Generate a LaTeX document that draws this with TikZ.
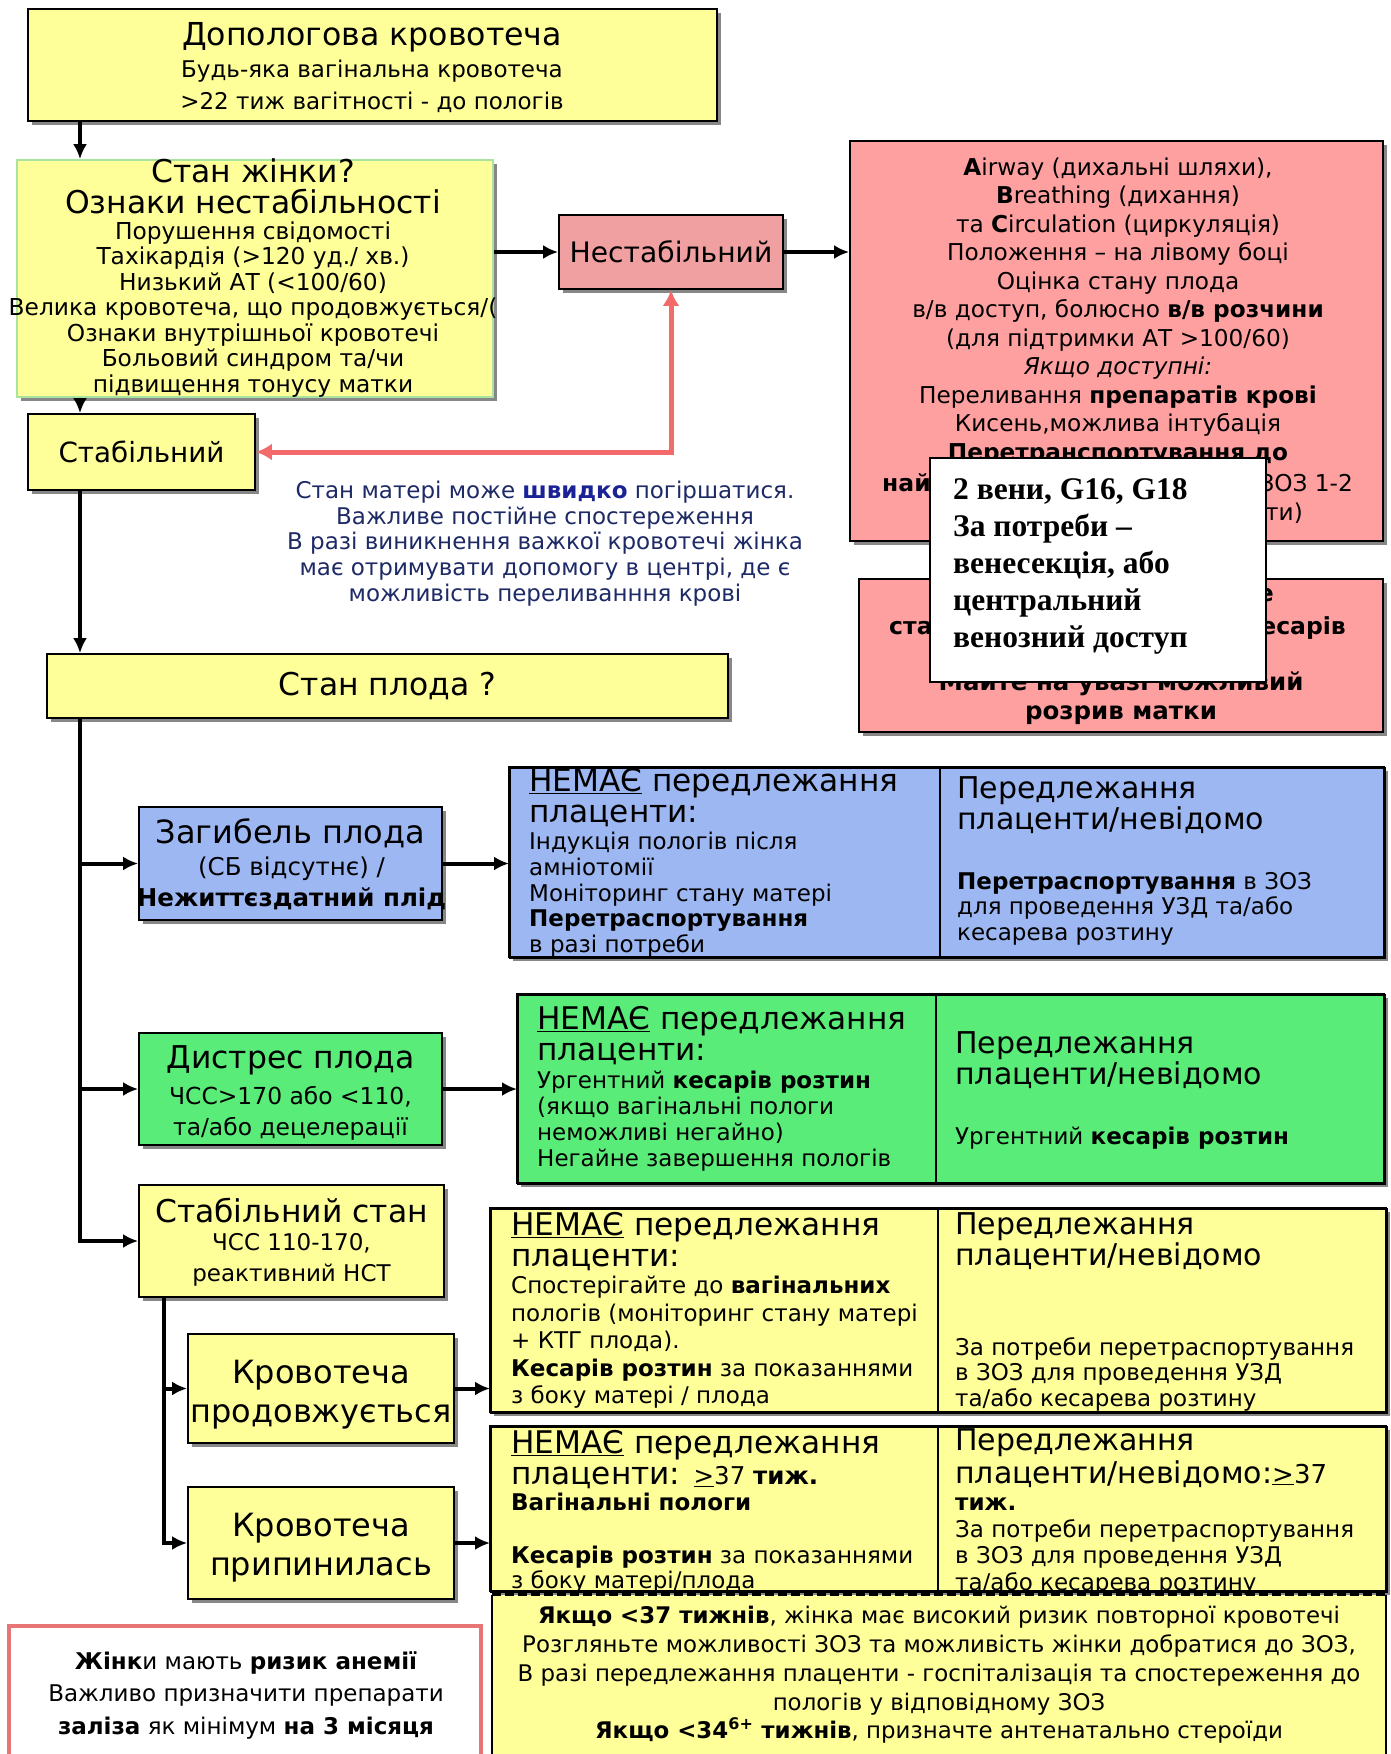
\documentclass[tikz,border=0pt]{standalone}
\usepackage{fontspec}
\setmainfont{DejaVu Sans}
\newfontfamily\serifb{Liberation Serif}
\usetikzlibrary{shadows,arrows.meta}
\definecolor{cyel}{HTML}{FFFF99}
\definecolor{cpinkA}{HTML}{F0A0A0}
\definecolor{cpinkB}{HTML}{FFA0A0}
\definecolor{cblueF}{HTML}{9DB7F2}
\definecolor{cgreenF}{HTML}{5AEC78}
\definecolor{carr}{HTML}{F26A6A}
\definecolor{cnavy}{HTML}{1E2A66}
\definecolor{cnavyb}{HTML}{1A2296}
\definecolor{cgb}{HTML}{A8E4A0}
\definecolor{cbrd}{HTML}{E87575}
\newcommand\fz[2]{\fontsize{#1}{#2}\selectfont}
\begin{document}
\begin{tikzpicture}[x=1pt,y=-1pt,
 shad/.style={drop shadow={shadow xshift=4pt,shadow yshift=-4pt,fill=black!55,opacity=.85}},
 box/.style={draw=black,line width=1.8pt,shad,inner sep=0pt,align=center},
 plain/.style={draw=black,line width=1.8pt,inner sep=0pt,anchor=north west},
 tl/.style={anchor=north west,inner sep=0pt,align=left},
 tc/.style={anchor=center,inner sep=0pt,align=center},
 frag/.style={inner sep=0pt,font=\fz{23.5}{28}\bfseries},
 arr/.style={line width=4pt,-{Latex[length=15pt,width=14pt]}},
 redarr/.style={line width=5pt,draw=carr,{Latex[length=16pt,width=17pt]}-{Latex[length=16pt,width=17pt]}},
]
\fill[white] (0,0) rectangle (1390,1754);
\useasboundingbox (0,0) rectangle (1390,1754);

% ---------- boxes ----------
\node[box,fill=cyel,minimum width=689pt,minimum height=112pt] (top) at (372.5,65) {};
\node[box,fill=cyel,draw=cgb,minimum width=476pt,minimum height=237pt] (zh) at (255,278.5) {};
\node[box,fill=cpinkA,minimum width=224pt,minimum height=74pt,font=\fz{28.2}{36}] (nest) at (671,252) {Нестабільний};
\node[box,fill=cpinkB,minimum width=533pt,minimum height=400pt] (red) at (1116.5,341) {};
\node[box,fill=cpinkB,minimum width=524pt,minimum height=153pt] (redb) at (1121,655.5) {};
\node[box,fill=cyel,minimum width=227pt,minimum height=76pt,font=\fz{27.8}{36}] (stab) at (141.5,452) {Стабільний};
\node[box,fill=cyel,minimum width=681pt,minimum height=64pt,font=\fz{31.4}{36}] (plod) at (387.5,686) {Стан плода ?};
\node[box,fill=cblueF,minimum width=303pt,minimum height=113pt] (zag) at (290.5,863.5) {};
\node[box,fill=cgreenF,minimum width=303pt,minimum height=112pt] (dys) at (290.5,1089) {};
\node[box,fill=cyel,minimum width=305pt,minimum height=112pt] (stst) at (291.5,1241) {};
\node[box,fill=cyel,minimum width=266pt,minimum height=109pt] (kra) at (321,1388.5) {};
\node[box,fill=cyel,minimum width=266pt,minimum height=112pt] (krb) at (321,1543) {};

% tables
\node[box,fill=cblueF,minimum width=875pt,minimum height=190pt] (blT) at (946.5,862) {};
\node[plain,minimum width=430pt,minimum height=190pt] (blL) at (509,767) {};
\node[plain,minimum width=445pt,minimum height=190pt] (blR) at (939,767) {};
\node[box,fill=cgreenF,minimum width=867pt,minimum height=189pt] (grT) at (950.5,1088.5) {};
\node[plain,minimum width=418pt,minimum height=189pt] (grL) at (517,994) {};
\node[plain,minimum width=449pt,minimum height=189pt] (grR) at (935,994) {};
\node[box,fill=cyel,minimum width=896pt,minimum height=204pt] (yaT) at (938,1310) {};
\node[plain,minimum width=447pt,minimum height=204pt] (yaL) at (490,1208) {};
\node[plain,minimum width=449pt,minimum height=204pt] (yaR) at (937,1208) {};
\node[box,fill=cyel,minimum width=896pt,minimum height=165pt] (ybT) at (938,1508.5) {};
\node[plain,minimum width=447pt,minimum height=165pt] (ybL) at (490,1426) {};
\node[plain,minimum width=449pt,minimum height=165pt] (ybR) at (937,1426) {};
% bottom boxes
\node[fill=cyel,inner sep=0pt,minimum width=894pt,minimum height=175pt] (bot) at (939,1682.5) {};
\draw[line width=1.8pt] (bot.north west) -- (bot.south west) (bot.north east) -- (bot.south east);
\draw[line width=3pt,dash pattern=on 9pt off 4pt] (bot.north west) -- (bot.north east);
\node[draw=cbrd,line width=4pt,fill=white,inner sep=0pt,minimum width=472pt,minimum height=144pt] (bleft) at (245,1698) {};

% ---------- texts ----------
\node[tc,font=\fz{31.6}{40}] (t1) at (372,37) {Допологова кровотеча};
\node[tc,font=\fz{23}{32}] (t2) at (372,86) {Будь-яка вагінальна кровотеча\\>22 тиж вагітності - до пологів};

\node[tc,font=\fz{31.4}{31}] (z1) at (253,186.5) {Стан жінки?\\Ознаки нестабільності};
\node[tc,font=\fz{23.3}{25.5}] (z2) at (253,309.5) {Порушення свідомості\\Тахікардія (>120 уд./ хв.)\\Низький АТ (<100/60)\\Велика кровотеча, що продовжується/(\\Ознаки внутрішньої кровотечі\\Больовий синдром та/чи\\підвищення тонусу матки};

\node[tc,font=\fz{23.2}{28.5}] (r1) at (1118,311.5) {\textbf{A}irway (дихальні шляхи),\\\textbf{B}reathing (дихання)\\та \textbf{C}irculation (циркуляція)\\Положення – на лівому боці\\Оцінка стану плода\\в/в доступ, болюсно \textbf{в/в розчини}\\(для підтримки АТ >100/60)\\\textit{Якщо доступні:}\\Переливання \textbf{препаратів крові}\\Кисень,можлива інтубація\\\textbf{Перетранспортування до}};
\node[frag,anchor=base west] (r2) at (882,491) {най};
\node[frag,anchor=base east,font=\fz{23.2}{28}] (r3) at (1353,491) {ЗОЗ 1-2};
\node[frag,anchor=base east,font=\fz{23.2}{28}] (r4) at (1303,520) {ти)};

\node[frag,anchor=base east] (q1) at (1274,601) {е};
\node[frag,anchor=base west] (q2) at (889,634) {ста};
\node[frag,anchor=base east] (q3) at (1346,634) {есарів};
\node[frag,anchor=base,font=\fz{24.5}{28}\bfseries] (q4) at (1121,690) {Майте на увазі можливий};
\node[frag,anchor=base,font=\fz{24.5}{28}\bfseries] (q5) at (1121,719) {розрив матки};

\node[draw=black,line width=1.5pt,fill=white,inner sep=0pt,minimum width=336pt,minimum height=224pt] (wb) at (1098,570) {};
\node[tl,font=\serifb\bfseries\fz{31.5}{37}] (wt) at (953,478) {2 вени, G16, G18\\За потреби –\\венесекція, або\\центральний\\венозний доступ};

\node[tc,font=\fz{23}{25.7},text=cnavy] (note) at (545,543.5) {Стан матері може \textcolor{cnavyb}{\textbf{швидко}} погіршатися.\\Важливе постійне спостереження\\В разі виникнення важкої кровотечі жінка\\має отримувати допомогу в центрі, де є\\можливість переливанння крові};

\node[tc,font=\fz{32}{36}] (g1) at (290.5,833) {Загибель плода};
\node[tc,font=\fz{24.5}{31}] (g2) at (291.5,883.5) {(СБ відсутнє) /\\\textbf{Нежиттєздатний плід}};
\node[tc,font=\fz{31.4}{36}] (d1) at (290.5,1060) {Дистрес плода};
\node[tc,font=\fz{23.4}{31}] (d2) at (290.5,1113) {ЧСС>170 або <110,\\та/або децелерації};
\node[tc,font=\fz{31.4}{36}] (s1) at (291.5,1211) {Стабільний стан};
\node[tc,font=\fz{23}{31}] (s2) at (291.5,1260) {ЧСС 110-170,\\реактивний НСТ};
\node[tc,font=\fz{32}{39}] (ka) at (321,1395) {Кровотеча\\продовжується};
\node[tc,font=\fz{32}{39}] (kb) at (321,1548) {Кровотеча\\припинилась};

% blue table
\node[tl,font=\fz{31.2}{31}] (b1) at (529,768) {\underline{НЕМАЄ} передлежання\\плаценти:};
\node[tl,font=\fz{23}{25.75}] (b2) at (529,832) {Індукція пологів після\\амніотомії\\Моніторинг стану матері\\\textbf{Перетраспортування}\\в разі потреби};
\node[tl,font=\fz{30}{31}] (b3) at (957,776) {Передлежання\\плаценти/невідомо};
\node[tl,font=\fz{23}{25.5}] (b4) at (957,872) {\textbf{Перетраспортування} в ЗОЗ\\для проведення УЗД та/або\\кесарева розтину};
% green table
\node[tl,font=\fz{31.2}{31}] (e1) at (537,1006) {\underline{НЕМАЄ} передлежання\\плаценти:};
\node[tl,font=\fz{23}{26}] (e2) at (537,1071) {Ургентний \textbf{кесарів розтин}\\(якщо вагінальні пологи\\неможливі негайно)\\Негайне завершення пологів};
\node[tl,font=\fz{30}{31}] (e3) at (955,1031) {Передлежання\\плаценти/невідомо};
\node[tl,font=\fz{23}{26}] (e4) at (955,1127) {Ургентний \textbf{кесарів розтин}};
% yellow table 1
\node[tl,font=\fz{31.2}{31}] (h1) at (511,1212) {\underline{НЕМАЄ} передлежання\\плаценти:};
\node[tl,font=\fz{23}{27.5}] (h2) at (511,1276) {Спостерігайте до \textbf{вагінальних}\\пологів (моніторинг стану матері\\+ КТГ плода).\\\textbf{Кесарів розтин} за показаннями\\з боку матері / плода};
\node[tl,font=\fz{30}{31}] (h3) at (955,1212) {Передлежання\\плаценти/невідомо};
\node[tl,font=\fz{23}{25.5}] (h4) at (955,1337) {За потреби перетраспортування\\в ЗОЗ для проведення УЗД\\та/або кесарева розтину};
% yellow table 2
\node[tl,font=\fz{31.2}{31}] (k1) at (511,1430) {\underline{НЕМАЄ} передлежання\\плаценти: {\fz{24.5}{31}\underline{>}37 \textbf{тиж.}}};
\node[tl,font=\fz{23}{25}] (k2) at (511,1493) {\textbf{Вагінальні пологи}};
\node[tl,font=\fz{23}{25}] (k3) at (511,1546) {\textbf{Кесарів розтин} за показаннями\\з боку матері/плода};
\node[tl,font=\fz{30}{33}] (k4) at (955,1428) {Передлежання\\плаценти/невідомо:{\fz{26}{33}\underline{>}37}};
\node[tl,font=\fz{23}{26.5}] (k5) at (955,1498) {\textbf{тиж.}\\За потреби перетраспортування\\в ЗОЗ для проведення УЗД\\та/або кесарева розтину};

\node[tc,font=\fz{22.9}{28.75}] (bt) at (939,1675) {\textbf{Якщо <37 тижнів}, жінка має високий ризик повторної кровотечі\\Розгляньте можливості ЗОЗ та можливість жінки добратися до ЗОЗ,\\В разі передлежання плаценти - госпіталізація та спостереження до\\пологів у відповідному ЗОЗ\\\textbf{Якщо <34\textsuperscript{6+} тижнів}, призначте антенатально стероїди};
\node[tc,font=\fz{23}{32.5}] (lt) at (246,1695) {\textbf{Жінк}и мають \textbf{ризик анемії}\\Важливо призначити препарати\\\textbf{заліза} як мінімум \textbf{на 3 місяця}};

% ---------- connectors ----------
\coordinate (mx) at (80,0);
\coordinate (mxb) at (164,0);
\draw[arr] (top.south -| mx) -- (zh.north -| mx);
\draw[arr] (zh.east |- nest.west) -- (nest.west);
\draw[arr] (nest.east) -- (red.west |- nest.east);
\draw[arr] (zh.south -| mx) -- (stab.north -| mx);
\draw[redarr] (stab.east) -| (nest.south);
\draw[arr] (stab.south -| mx) -- (plod.north -| mx);
\draw[arr] (plod.south -| mx) |- (stst.west);
\draw[arr] (mx |- zag.west) -- (zag.west);
\draw[arr] (mx |- dys.west) -- (dys.west);
\draw[arr] (zag.east) -- (blL.west |- zag.east);
\draw[arr] (dys.east) -- (grL.west |- dys.east);
\draw[arr] (stst.south -| mxb) |- (krb.west);
\draw[arr] (mxb |- kra.west) -- (kra.west);
\draw[arr] (kra.east) -- (yaL.west |- kra.east);
\draw[arr] (krb.east) -- (ybL.west |- krb.east);
\end{tikzpicture}
\end{document}
